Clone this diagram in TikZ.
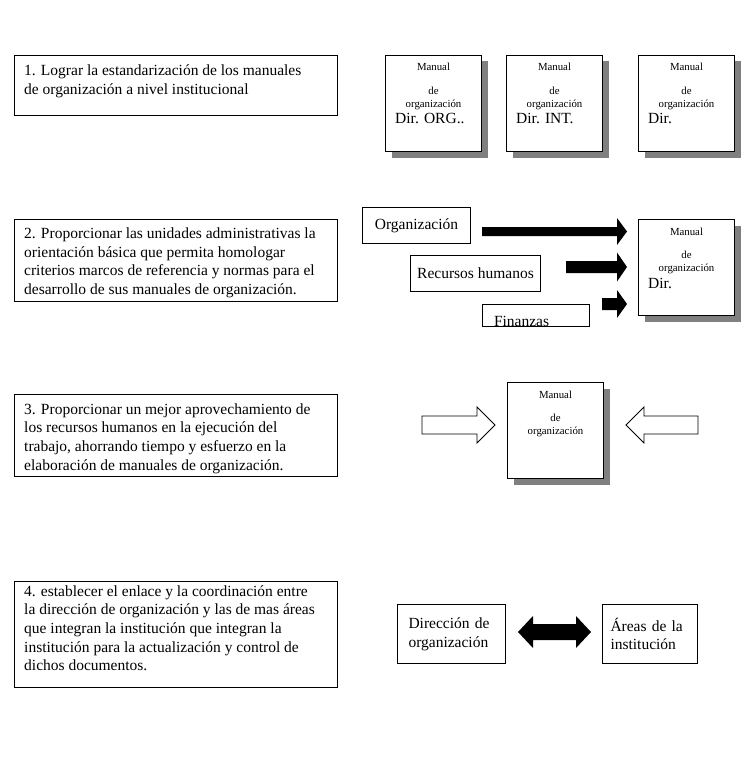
\documentclass[tikz,border=0pt]{standalone}
\usepackage{fontspec}
\setmainfont{Liberation Serif}
\usetikzlibrary{shadows}
\tikzset
{
	my box/.style={draw,line width=1pt,inner sep=0pt},
	my text/.style={font=\fontsize{15.5}{18.7}\selectfont,inner sep=0pt},
	my small/.style={font=\fontsize{10.8}{13}\selectfont,inner sep=0pt,align=center},
	my manual/.style={my box,fill=white,minimum width=96,minimum height=96,drop shadow={shadow xshift=6pt,shadow yshift=-6pt,fill=gray,opacity=1}},
	my area/.style={my box,my text,minimum height=36}
}

\begin{document}
\begin{tikzpicture}[x=1pt,y=-1pt,line join=miter]
		\useasboundingbox (0,0) rectangle (752,757);
		% objectives (text placed at the baseline of its last line)
		\foreach[count=\j]\y/\h in {55/60,219/82,394/82,581/106}
		\node[my box,anchor=north west,minimum width=323,minimum height=\h] (obj\j) at (14,\y) {};
		\node[my text,anchor=base west,align=left] (obj1-t) at (24,94.5) {1. Lograr la estandarización de los manuales\\de organización a nivel institucional};
		\node[my text,anchor=base west,align=left] (obj2-t) at (24,294.6) {2. Proporcionar las unidades administrativas la\\orientación básica que permita homologar\\criterios marcos de referencia y normas para el\\desarrollo de sus manuales de organización.};
		\node[my text,anchor=base west,align=left] (obj3-t) at (24,470.1) {3. Proporcionar un mejor aprovechamiento de\\los recursos humanos en la ejecución del\\trabajo, ahorrando tiempo y esfuerzo en la\\elaboración de manuales de organización.};
		\node[my text,anchor=base west,align=left] (obj4-t) at (24,670.8) {4. establecer el enlace y la coordinación entre\\la dirección de organización y las de mas áreas\\que integran la institución que integran la\\institución para la actualización y control de\\dichos documentos.};
		% manuals
		\foreach\n/\x/\y in {A/385/55,B/506/55,C/638/55,D/638/219,E/507/382}
		{
			\node[my manual,anchor=north west] (man\n) at (\x,\y) {};
			\node[my small,anchor=base] (man\n-t) at ([yshift=-52pt]man\n.north) {Manual\\[10pt]de\\organización};
		}
		\foreach\n/\d in {A/Dir. ORG..,B/Dir. INT.,C/Dir.,D/Dir.}
		\node[my text,anchor=base west] (man\n-d) at ([xshift=10pt,yshift=-69pt]man\n.north west) {\d};
		% areas feeding the manual
		\node[my area,anchor=north west,minimum width=108] (org) at (362,207) {Organización};
		\node[my area,anchor=north west,minimum width=130] (rh) at (410,255) {Recursos humanos};
		\node[my box,anchor=north west,minimum width=107,minimum height=22,
			path picture={\node[my text,draw=none,fill=none,minimum width=0pt,minimum height=0pt,anchor=base west] (fin-t) at ([xshift=11pt,yshift=0.5pt]path picture bounding box.south west) {Finanzas};}] (fin) at (482,304) {};
		\foreach\x/\y/\s/\h in {482/231.5/4.5/13.5,566/267/6/14.5,602/304/6/14}
		\fill (\x,\y-\s) -- (617,\y-\s) -- (617,\y-\h) -- (627,\y) -- (617,\y+\h) -- (617,\y+\s) -- (\x,\y+\s) -- cycle;
		% white arrows
		\draw[line width=0.8pt,fill=white] (422,416) -- (477,416) -- (477,407) -- (495,425) -- (477,443) -- (477,434) -- (422,434) -- cycle;
		\draw[line width=0.8pt,fill=white] (698,416) -- (644,416) -- (644,407) -- (626,425) -- (644,443) -- (644,434) -- (698,434) -- cycle;
		% link
		\node[my box,my text,anchor=north west,align=left,text width=86,inner xsep=11,minimum height=59] (dir) at (397,604) {Dirección de\\organización};
		\node[my box,my text,anchor=north west,align=left,text width=79,inner xsep=8,minimum height=59] (areas) at (602,604) {Áreas de la\\institución};
		\fill (518,632) -- (533,616) -- (533,624) -- (576,624) -- (576,616) -- (591,632) -- (576,648) -- (576,640) -- (533,640) -- (533,648) -- cycle;
	\end{tikzpicture}
\end{document}
